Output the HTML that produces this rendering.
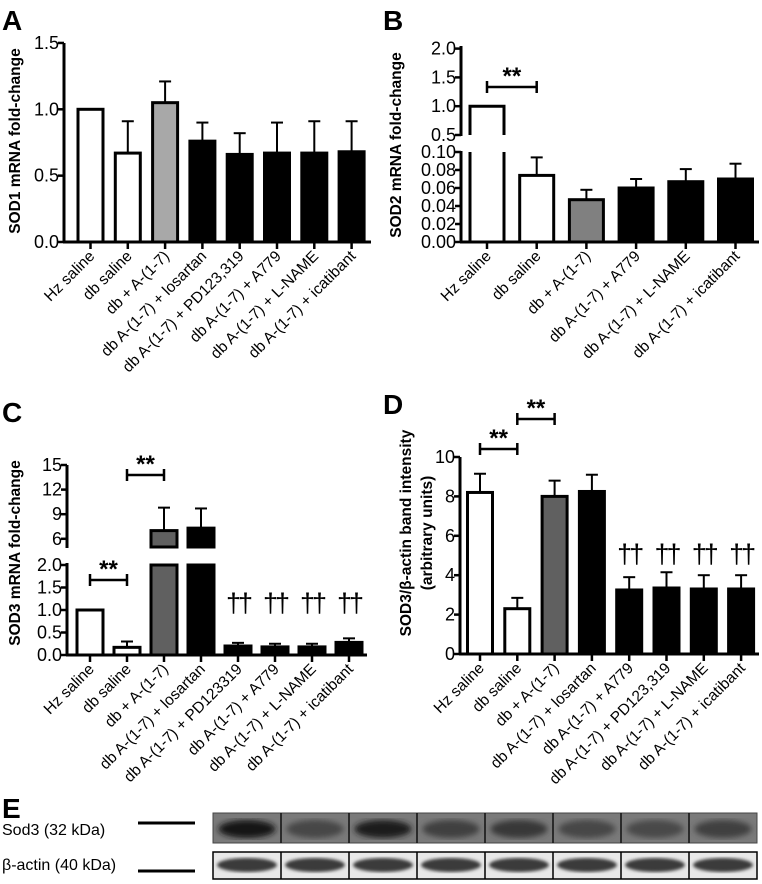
<!DOCTYPE html>
<html><head><meta charset="utf-8">
<style>
html,body{margin:0;padding:0;background:#fff;}
svg{display:block;font-family:"Liberation Sans",Arial,sans-serif;}
</style></head>
<body>
<svg id="fig" width="762" height="884" viewBox="0 0 762 884" xmlns="http://www.w3.org/2000/svg">
<defs>
<filter id="blur2"><feGaussianBlur stdDeviation="3"/></filter>
<filter id="blur1"><feGaussianBlur stdDeviation="1.5"/></filter>
</defs>
<g id="root"></g>
</svg>
<script>
// ---------- Panel A data ----------
const catsA = ["Hz saline","db saline","db + A-(1-7)","db A-(1-7) + losartan","db A-(1-7) + PD123,319","db A-(1-7) + A779","db A-(1-7) + L-NAME","db A-(1-7) + icatibant"];
const valsA = [1.0,0.67,1.05,0.76,0.66,0.67,0.67,0.68];
const errA  = [1.0,0.91,1.21,0.90,0.82,0.90,0.91,0.91];
const fillA = ["#fff","#fff","#a8a8a8","#000","#000","#000","#000","#000"];
const ticksA = [0.0,0.5,1.0,1.5];
const tickLabelsA = ["0.0","0.5","1.0","1.5"];
// ---------- Panel B data ----------
const catsB = ["Hz saline","db saline","db + A-(1-7)","db A-(1-7) + A779","db A-(1-7) + L-NAME","db A-(1-7) + icatibant"];
const valsB = [1.0,0.074,0.047,0.060,0.067,0.070];
const errB  = [1.0,0.094,0.058,0.070,0.081,0.087];
const fillB = ["#fff","#fff","#808080","#000","#000","#000"];
const ticksB = [0.00,0.02,0.04,0.06,0.08,0.10,0.5,1.0,1.5,2.0];
const tickLabelsB = ["0.00","0.02","0.04","0.06","0.08","0.10","0.5","1.0","1.5","2.0"];
// ---------- Panel C data ----------
const catsC = ["Hz saline","db saline","db + A-(1-7)","db A-(1-7) + losartan","db A-(1-7) + PD123319","db A-(1-7) + A779","db A-(1-7) + L-NAME","db A-(1-7) + icatibant"];
const valsC = [1.0,0.17,7.0,7.3,0.20,0.18,0.18,0.28];
const errC  = [1.0,0.30,9.8,9.7,0.27,0.25,0.25,0.37];
const fillC = ["#fff","#fff","#606060","#000","#000","#000","#000","#000"];
const ticksC = [0.0,0.5,1.0,1.5,2.0,6,9,12,15];
const tickLabelsC = ["0.0","0.5","1.0","1.5","2.0","6","9","12","15"];
// ---------- Panel D data ----------
const catsD = ["Hz saline","db saline","db + A-(1-7)","db A-(1-7) + losartan","db A-(1-7) + A779","db A-(1-7) + PD123,319","db A-(1-7) + L-NAME","db A-(1-7) + icatibant"];
const valsD = [8.2,2.3,8.0,8.25,3.25,3.35,3.3,3.3];
const errD  = [9.15,2.85,8.8,9.1,3.9,4.15,4.0,4.0];
const fillD = ["#fff","#fff","#606060","#000","#000","#000","#000","#000"];
const ticksD = [0,2,4,6,8,10];
const tickLabelsD = ["0","2","4","6","8","10"];
// ---------- Blot data (relative band darkness) ----------
const sod3Intensity = [0.95,0.45,0.9,0.5,0.6,0.45,0.4,0.5];

const NS="http://www.w3.org/2000/svg";
const root=document.getElementById('root');
function el(tag,attrs,parent,text){const e=document.createElementNS(NS,tag);for(const k in attrs)e.setAttribute(k,attrs[k]);if(text!==undefined)e.textContent=text;(parent||root).appendChild(e);return e;}

function panel(p){
  const g=el('g',{});
  
  
  const L=el('text',{x:p.letter[0],y:p.letter[1],'font-size':28,'font-weight':'bold'},g,p.letterText);
  
  
  const yt=el('text',{transform:`translate(${p.ytx},${p.yty}) rotate(-90)`,'font-size':15.5,'font-weight':'bold','text-anchor':'middle'},g);
  
  
  p.ytitle.forEach((t,i)=>{el('tspan',{x:0,dy:i===0?0:(p.ytLine||18)},yt,t);});
  p.segs.forEach(s=>{
    const a=el('line',{x1:p.ax,x2:p.ax,y1:s[0],y2:s[1],stroke:'#000','stroke-width':3},g);
    
    
  });
  p.ticks.forEach((v,i)=>{
    const y=p.y(v);
    el('line',{x1:p.ax-6,x2:p.ax,y1:y,y2:y,stroke:'#000','stroke-width':2.5},g);
    const t=el('text',{x:p.ax-5,y:y+6,'font-size':18,'text-anchor':'end'},g,p.tickLabels[i]);
    
    
  });
  const base=p.y(0);
  const xa=el('line',{x1:p.ax-1,x2:p.axEnd,y1:base,y2:base,stroke:'#000','stroke-width':3},g);
  
  
  p.cats.forEach((c,i)=>{
    const cx=p.x0+i*p.dx;
    const top=p.y(p.vals[i]), etop=p.y(p.errs[i]);
    const hw=p.bw/2;
    if(p.errs[i]>p.vals[i]){
      el('line',{x1:cx,x2:cx,y1:top,y2:etop,stroke:'#000','stroke-width':2},g);
      el('line',{x1:cx-6,x2:cx+6,y1:etop,y2:etop,stroke:'#000','stroke-width':2},g);
    }
    let bar;
    if(p.brk && p.vals[i]>p.brk.lowMax){
      bar=el('g',{},g);
      const lt=p.y(p.brk.lowMax);
      if(p.brk.openLow){
        el('path',{d:`M${cx-hw},${lt} L${cx-hw},${base} M${cx+hw},${base} L${cx+hw},${lt}`,fill:'none',stroke:'#000','stroke-width':3},bar);
        el('path',{d:`M${cx-hw},${p.brk.upBase} L${cx-hw},${top} L${cx+hw},${top} L${cx+hw},${p.brk.upBase}`,fill:p.fills[i],stroke:'#000','stroke-width':3},bar);
      } else {
        el('rect',{x:cx-hw,y:lt,width:p.bw,height:base-lt,fill:p.fills[i],stroke:'#000','stroke-width':3},bar);
        el('rect',{x:cx-hw,y:top,width:p.bw,height:p.brk.upBase-top,fill:p.fills[i],stroke:'#000','stroke-width':3},bar);
      }
    } else {
      bar=el('rect',{x:cx-hw,y:top,width:p.bw,height:base-top,fill:p.fills[i],stroke:'#000','stroke-width':3},g);
    }
    
    
    el('line',{x1:cx,x2:cx,y1:base,y2:base+7,stroke:'#000','stroke-width':2.5},g);
    const t=el('text',{transform:`translate(${cx+5},${base+15}) rotate(-45)`,'font-size':15.5,'text-anchor':'end'},g,c);
    
    
  });
  (p.brackets||[]).forEach(b=>{
    const x1=p.x0+b[0]*p.dx, x2=p.x0+b[1]*p.dx, y=b[2];
    const bg=el('g',{},g);
    
    
    el('path',{d:`M${x1},${y-6} L${x1},${y+6} M${x1},${y} L${x2},${y} M${x2},${y-6} L${x2},${y+6}`,stroke:'#000','stroke-width':2.5,fill:'none'},bg);
    el('text',{x:(x1+x2)/2,y:y-3,'font-size':24,'font-weight':'bold','text-anchor':'middle'},bg,'**');
  });
  (p.daggers||[]).forEach(i=>{
    const t=el('text',{x:p.x0+i*p.dx,y:p.dagY,'font-size':27,'text-anchor':'middle','letter-spacing':-3},g,'††');
    
    
  });
}

panel({name:'panel-a-sod1',letterText:'A',letter:[2,30],ytitle:['SOD1 mRNA fold-change'],ytx:20,yty:141,
  ax:64,axEnd:371,segs:[[43,243]],y:v=>242-v*132.7,ticks:ticksA,tickLabels:tickLabelsA,
  cats:catsA,vals:valsA,errs:errA,fills:fillA,x0:90.5,dx:37.3,bw:25});
const yB=v=> v<=0.1 ? 242-v*900 : 135-(v-0.5)*57.6;
panel({name:'panel-b-sod2',letterText:'B',letter:[383,30],ytitle:['SOD2 mRNA fold-change'],ytx:401,yty:145,
  ax:461,axEnd:759,segs:[[46,136],[151,243]],y:yB,ticks:ticksB,tickLabels:tickLabelsB,
  cats:catsB,vals:valsB,errs:errB,fills:fillB,x0:487,dx:49.7,bw:34,
  brk:{lowMax:0.1,upBase:135,openLow:true},brackets:[[0,1,87]]});
const yC=v=> v<=2 ? 655-v*45 : 547-(v-5)*8.2;
panel({name:'panel-c-sod3-mrna',letterText:'C',letter:[2,422],ytitle:['SOD3 mRNA fold-change'],ytx:20,yty:553,
  ax:67,axEnd:367,segs:[[465,548],[563,656]],y:yC,ticks:ticksC,tickLabels:tickLabelsC,
  cats:catsC,vals:valsC,errs:errC,fills:fillC,x0:90,dx:37,bw:26,
  brk:{lowMax:2,upBase:547,openLow:false},brackets:[[1,2,475],[0,1,580]],daggers:[4,5,6,7],dagY:612});
panel({name:'panel-d-sod3-protein',letterText:'D',letter:[383,414],ytitle:['SOD3/β-actin band intensity','(arbitrary units)'],ytx:411,yty:533,ytLine:21,
  ax:460,axEnd:759,segs:[[457,655]],y:v=>654-v*19.7,ticks:ticksD,tickLabels:tickLabelsD,
  cats:catsD,vals:valsD,errs:errD,fills:fillD,x0:480,dx:37.3,bw:25,
  brackets:[[0,1,449],[1,2,419]],daggers:[4,5,6,7],dagY:563});

const gE=el('g',{});


el('text',{x:2,y:818,'font-size':28,'font-weight':'bold'},gE,'E');
const s1=el('text',{x:2,y:835,'font-size':16},gE,'Sod3 (32 kDa)');


const s2=el('text',{x:2,y:870,'font-size':16},gE,'β-actin (40 kDa)');


el('line',{x1:138,x2:195,y1:823,y2:823,stroke:'#000','stroke-width':3},gE);
el('line',{x1:138,x2:195,y1:871,y2:871,stroke:'#000','stroke-width':3},gE);
const bx0=213,bx1=757,lw=(bx1-bx0)/sod3Intensity.length;
const r1=el('rect',{x:bx0,y:813,width:bx1-bx0,height:30,fill:'#7a7a7a',stroke:'#444','stroke-width':1},gE);


const r2=el('rect',{x:bx0,y:852,width:bx1-bx0,height:27,fill:'#e8e8e8',stroke:'#000','stroke-width':1.5},gE);


sod3Intensity.forEach((v,i)=>{
  const cx=bx0+lw*(i+0.5);
  const c=Math.round(110-v*90);
  el('ellipse',{cx:cx,cy:829,rx:lw*0.42,ry:9,fill:`rgb(${c},${c},${c})`,filter:'url(#blur2)'},gE);
  el('ellipse',{cx:cx,cy:865,rx:lw*0.44,ry:7,fill:'#3a3a3a',filter:'url(#blur1)'},gE);
  if(i>0){
    el('line',{x1:bx0+lw*i,x2:bx0+lw*i,y1:813,y2:843,stroke:'#111','stroke-width':1.5},gE);
    el('line',{x1:bx0+lw*i,x2:bx0+lw*i,y1:852,y2:879,stroke:'#000','stroke-width':1.5},gE);
  }
});
</script>
</body></html>
